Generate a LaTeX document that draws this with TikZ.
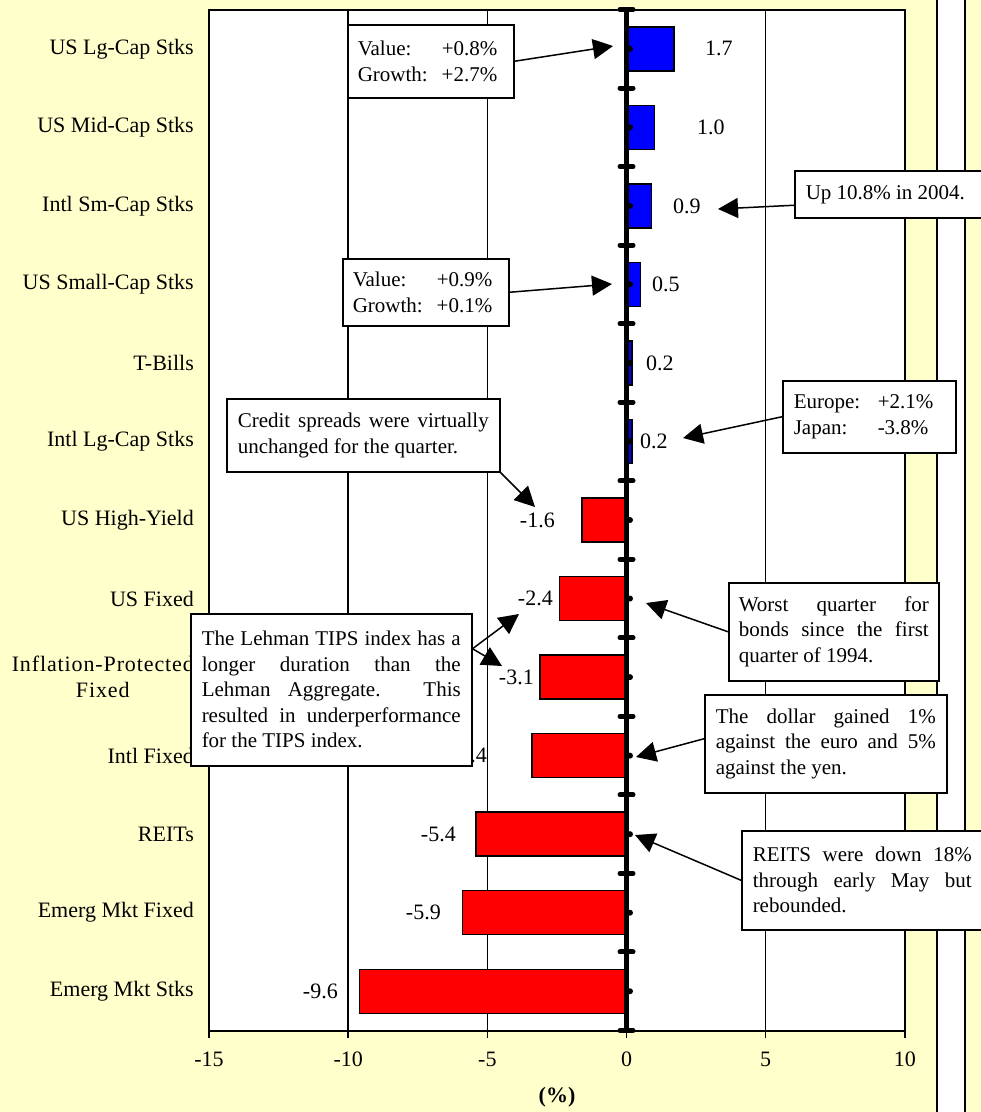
\documentclass[tikz,border=0pt]{standalone}
\usepackage{fontspec}
\setmainfont{Liberation Serif}
\usetikzlibrary{arrows.meta}
\definecolor{bgyellow}{RGB}{255,255,204}
\definecolor{barblue}{RGB}{0,0,255}
\definecolor{barred}{RGB}{255,0,0}
\begin{document}
\begin{tikzpicture}[x=1pt,y=-1pt,
  chartfont/.style={font=\fontsize{22}{26}\selectfont},
  boxfont/.style={font=\fontsize{21}{25.5}\selectfont},
  annot/.style={draw=black, line width=1.5pt, fill=white, boxfont, anchor=north west, inner ysep=0pt, align=justify},
  pointer/.style={line width=1.5pt, -{Triangle[length=20pt,width=20pt]}},
  gridline/.style={line width=1.5pt},
  barpos/.style={draw=black, line width=1.5pt, fill=barblue},
  barneg/.style={draw=black, line width=1.5pt, fill=barred},
  catlabel/.style={chartfont, anchor=east, align=center, inner sep=0pt},
  vallabel/.style={chartfont, inner sep=0pt},
  ]
\clip (0,0) rectangle (981,1112);
\fill[bgyellow] (0,0) rectangle (981,1112);
% stripe at right
\fill[white] (937,0) rectangle (965,1112);
\draw[line width=2pt] (937,-5) -- (937,1120);
\draw[line width=2pt] (965,-5) -- (965,1120);
% plot area
\fill[white] (209,9.5) rectangle (905,1030.5);
\foreach \v in {-10,-5,5}
  \draw[gridline] ({626.5+27.83*\v},9.5) -- ({626.5+27.83*\v},1030.5);
% bars
\foreach \v [count=\i from 0] in {1.7,1.0,0.9,0.5,0.2,0.2,-1.6,-2.4,-3.1,-3.4,-5.4,-5.9,-9.6} {
  \pgfmathsetmacro\yc{9.5+78.54*(\i+0.5)}
  \ifdim \v pt>0pt \def\bs{barpos}\else\def\bs{barneg}\fi
  \draw[\bs] (626.5,{\yc-22}) rectangle ({626.5+27.83*\v},{\yc+22});
}
% plot border
\draw[line width=2pt] (209,9.5) rectangle (905,1030.5);
% bottom ticks and labels
\foreach \v [count=\j] in {-15,-10,-5,0,5,10} {
  \draw[line width=1.5pt] ({626.5+27.83*\v},1030.5) -- ({626.5+27.83*\v},1037.5);
  \node[chartfont] (tick\j) at ({626.5+27.83*\v},1059) {\v};
}
\node[font=\fontsize{22}{26}\selectfont\bfseries] (xtitle) at (557,1097) {(\%)};
% zero axis
\draw[line width=5pt] (626.5,9.5) -- (626.5,1030.5);
\foreach \k in {0,...,13}
  \draw[line width=5pt, line cap=round] (620,{9.5+78.54*\k}) -- (633,{9.5+78.54*\k});
\foreach \i in {0,...,12}
  \fill (630,{9.5+78.54*(\i+0.5)}) circle (3pt);
% category labels
\foreach \t [count=\i from 0] in {US Lg-Cap Stks, US Mid-Cap Stks, Intl Sm-Cap Stks, US Small-Cap Stks, T-Bills, Intl Lg-Cap Stks, US High-Yield, US Fixed, {\addfontfeatures{LetterSpace=4}Inflation-Protected\\\addfontfeatures{LetterSpace=4}Fixed}, Intl Fixed, REITs, Emerg Mkt Fixed, Emerg Mkt Stks}
  \node[catlabel] (cat\i) at (194,{9.5+78.54*(\i+0.5)}) {\t};
% value labels
\foreach \v/\a/\x [count=\i from 0] in {1.7/west/705, 1.0/west/697, 0.9/west/673, 0.5/west/652, 0.2/west/646, 0.2/west/640, -1.6/east/555, -2.4/east/553, -3.1/east/534, -3.4/east/487, -5.4/east/456, -5.9/east/441, -9.6/east/338}
  \node[vallabel, anchor=\a] (val\i) at (\x,{9.5+78.54*(\i+0.5)}) {\v};
% annotation boxes
\node[annot, inner xsep=10pt, text width=146pt, minimum height=73pt] (b1) at (347,24)
  {\makebox[84pt][l]{Value:}+0.8\%\\\makebox[84pt][l]{Growth:}+2.7\%};
\node[annot, inner xsep=10pt, text width=146pt, minimum height=67pt] (b2) at (342,258)
  {\makebox[84pt][l]{Value:}+0.9\%\\\makebox[84pt][l]{Growth:}+0.1\%};
\node[annot, inner xsep=11pt, text width=200pt, minimum height=47pt] (b3) at (794,170)
  {Up 10.8\% in 2004.};
\node[annot, inner xsep=11pt, text width=151pt, minimum height=72pt] (b4) at (782,380)
  {\makebox[84pt][l]{Europe:}+2.1\%\\\makebox[84pt][l]{Japan:}-3.8\%};
\node[annot, inner xsep=11pt, text width=251pt, minimum height=73pt] (b5) at (226,398)
  {Credit spreads were virtually\linebreak unchanged for the quarter.};
\node[annot, inner xsep=11pt, text width=259pt, minimum height=152pt] (b6) at (190,613)
  {The Lehman TIPS index has a\linebreak longer duration than the\linebreak Lehman Aggregate. This\linebreak resulted in underperformance\linebreak for the TIPS index.};
\node[annot, inner xsep=10pt, text width=190pt, minimum height=98pt] (b7) at (728,582)
  {Worst quarter for\linebreak bonds since the first\linebreak quarter of 1994.};
\node[annot, inner xsep=11pt, text width=220pt, minimum height=98pt] (b8) at (704,694)
  {The dollar gained 1\%\linebreak against the euro and 5\%\linebreak against the yen.};
\node[annot, inner xsep=11pt, text width=219pt, minimum height=99pt] (b9) at (741,830)
  {REITS were down 18\%\linebreak through early May but\linebreak rebounded.};
% arrow tips
\coordinate (t1) at (613,46);
\coordinate (t2) at (612,284);
\coordinate (t3) at (718,209);
\coordinate (t4) at (683,438);
\coordinate (t5) at (535,507);
\coordinate (t6a) at (519,614);
\coordinate (t6b) at (502,666);
\coordinate (t7) at (646,603);
\coordinate (t8) at (636,757);
\coordinate (t9) at (635,835);
\draw[pointer] (b1.east) -- (t1);
\draw[pointer] (b2.east) -- (t2);
\draw[pointer] ([yshift=-11pt]b3.west) -- (t3);
\draw[pointer] (b4.west) -- (t4);
\draw[pointer] (b5.south east) -- (t5);
\draw[pointer] ([yshift=41pt]b6.east) -- (t6a);
\draw[pointer] ([yshift=41pt]b6.east) -- (t6b);
\draw[pointer] (b7.west) -- (t7);
\draw[pointer] ([yshift=5pt]b8.west) -- (t8);
\draw[pointer] (b9.west) -- (t9);
\end{tikzpicture}
\end{document}
